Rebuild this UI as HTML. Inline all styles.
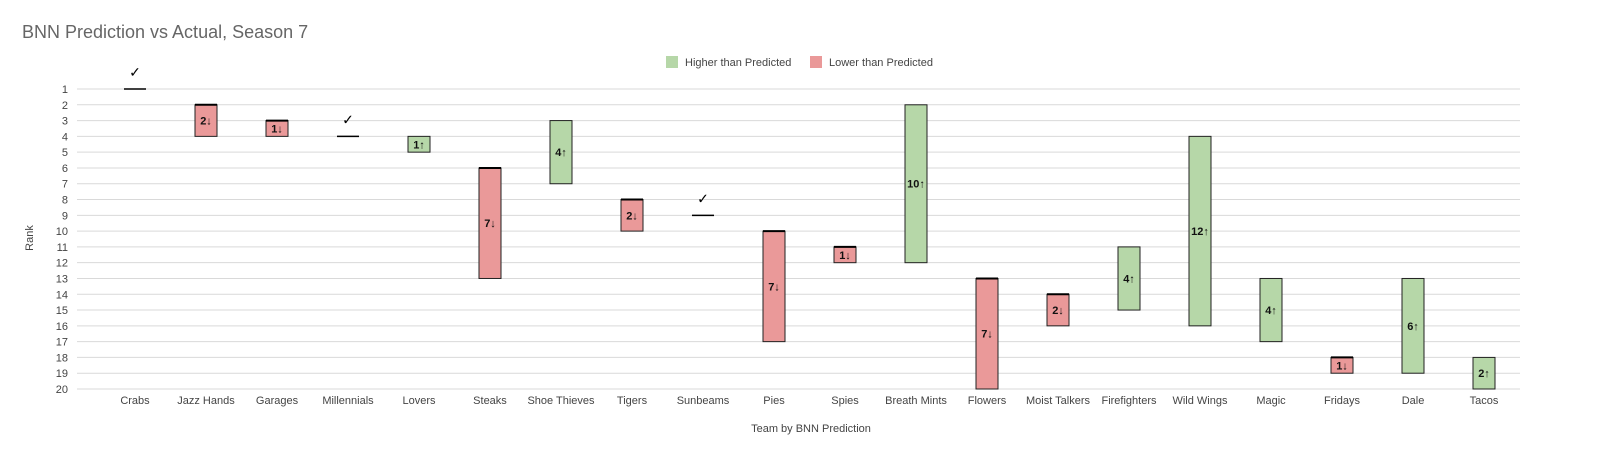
<!DOCTYPE html>
<html><head><meta charset="utf-8"><style>
body{margin:0;background:#fff;font-family:"Liberation Sans",sans-serif}
</style></head><body>
<svg id="c" width="1600" height="467" xmlns="http://www.w3.org/2000/svg">
<text x="22" y="38" font-size="18" fill="#666">BNN Prediction vs Actual, Season 7</text>
<g>
<rect x="666" y="56" width="12" height="12" fill="#b6d7a8"/>
<text x="685" y="66" font-size="11" fill="#444">Higher than Predicted</text>
<rect x="810" y="56" width="12" height="12" fill="#ea9999"/>
<text x="829" y="66" font-size="11" fill="#444">Lower than Predicted</text>
</g>
<text transform="translate(33,238) rotate(-90)" text-anchor="middle" font-size="11" fill="#444">Rank</text>
<text x="811" y="432" text-anchor="middle" font-size="11" fill="#444">Team by BNN Prediction</text>
<g id="grid"></g><g id="bars"></g>
</svg>
<script>
const teams=["Crabs","Jazz Hands","Garages","Millennials","Lovers","Steaks","Shoe Thieves","Tigers","Sunbeams","Pies","Spies","Breath Mints","Flowers","Moist Talkers","Firefighters","Wild Wings","Magic","Fridays","Dale","Tacos"];
const predicted=[1,2,3,4,5,6,7,8,9,10,11,12,13,14,15,16,17,18,19,20];
const actual=[1,4,4,4,4,13,3,10,9,17,12,2,20,16,11,4,13,19,13,18];
const rankTicks=[1,2,3,4,5,6,7,8,9,10,11,12,13,14,15,16,17,18,19,20];
const NS="http://www.w3.org/2000/svg";
const y=r=>89+(r-1)*(300/19);
const x=i=>135+i*71;
function mk(t,a,p){const e=document.createElementNS(NS,t);for(const k in a)e.setAttribute(k,a[k]);p.appendChild(e);return e;}
const grid=document.getElementById('grid'),bars=document.getElementById('bars');
rankTicks.forEach(r=>{
 const l=mk('line',{x1:77,x2:1520,y1:y(r),y2:y(r),stroke:'#d9d9d9','stroke-width':1},grid);
 
 
 const t=mk('text',{x:68,y:y(r)+4,'text-anchor':'end','font-size':11,fill:'#444'},grid);t.textContent=r;
 
 
});
teams.forEach((n,i)=>{
 const cx=x(i),p=predicted[i],a=actual[i],d=a-p;
 const t=mk('text',{x:cx,y:404,'text-anchor':'middle','font-size':11,fill:'#444'},grid);t.textContent=n;
 
 
 const g=mk('g',{},bars);
 
 
 if(d===0){
  mk('line',{x1:cx-11,x2:cx+11,y1:y(p),y2:y(p),stroke:'#000','stroke-width':1.5},g);
  const c=mk('text',{x:cx,y:y(p)-12,'text-anchor':'middle','font-size':14},g);c.textContent='✓';
  return;
 }
 const top=Math.min(p,a),bot=Math.max(p,a);
 const col=d>0?'#ea9999':'#b6d7a8';
 mk('rect',{x:cx-11,y:y(top),width:22,height:y(bot)-y(top),fill:col,stroke:'#222','stroke-width':1},g);
 if(d>0)mk('line',{x1:cx-11,x2:cx+11,y1:y(p),y2:y(p),stroke:'#000','stroke-width':2},g);
 const lb=mk('text',{x:cx,y:(y(top)+y(bot))/2+4,'text-anchor':'middle','font-size':11,'font-weight':'bold',fill:'#111'},g);
 lb.textContent=Math.abs(d)+(d>0?'↓':'↑');
});
</script>
</body></html>
